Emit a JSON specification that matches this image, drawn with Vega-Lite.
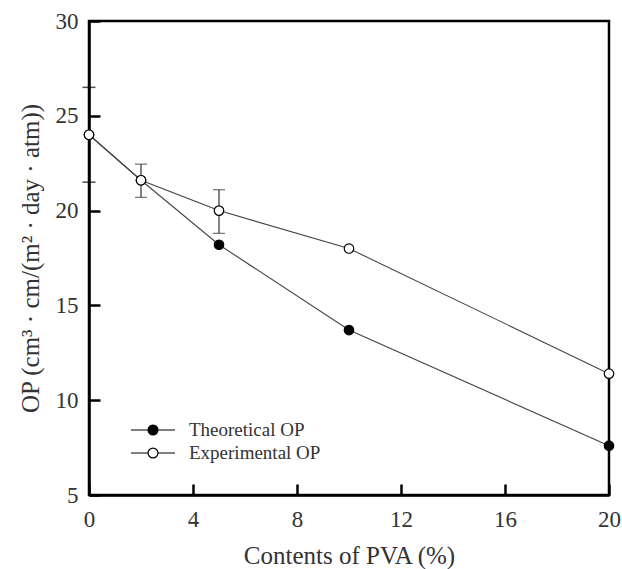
{
  "$schema": "https://vega.github.io/schema/vega-lite/v6.json",
  "width": 520,
  "height": 474,
  "autosize": "none",
  "padding": {"left": 89, "top": 21, "right": 13, "bottom": 74},
  "background": "white",
  "config": {
    "view": {"stroke": "black", "strokeWidth": 2.5},
    "font": "Liberation Serif",
    "axis": {
      "grid": false,
      "domainColor": "black",
      "domainWidth": 2.5,
      "tickColor": "black",
      "tickWidth": 2.5,
      "tickSize": -11,
      "labelFlush": false,
      "labelFont": "Liberation Serif",
      "labelFontSize": 23,
      "labelColor": "#333",
      "titleFont": "Liberation Serif",
      "titleFontSize": 25,
      "titleFontWeight": "normal",
      "titleColor": "#333"
    }
  },
  "datasets": {
    "main": [
      {"pva": 0, "op": 24.0, "series": "Theoretical OP"},
      {"pva": 2, "op": 21.6, "series": "Theoretical OP"},
      {"pva": 5, "op": 18.2, "series": "Theoretical OP"},
      {"pva": 10, "op": 13.7, "series": "Theoretical OP"},
      {"pva": 20, "op": 7.6, "series": "Theoretical OP"},
      {"pva": 0, "op": 24.0, "series": "Experimental OP"},
      {"pva": 2, "op": 21.6, "series": "Experimental OP"},
      {"pva": 5, "op": 20.0, "series": "Experimental OP"},
      {"pva": 10, "op": 18.0, "series": "Experimental OP"},
      {"pva": 20, "op": 11.4, "series": "Experimental OP"}
    ],
    "err": [
      {"pva": 2, "lo": 20.7, "hi": 22.45},
      {"pva": 5, "lo": 18.8, "hi": 21.1}
    ],
    "minor": [
      {"pva": 0, "op": 26.5},
      {"pva": 0, "op": 21.5}
    ]
  },
  "layer": [
    {
      "data": {"name": "minor"},
      "mark": {"type": "tick", "orient": "horizontal", "size": 13, "thickness": 1.5, "color": "black"},
      "encoding": {
        "x": {"field": "pva", "type": "quantitative"},
        "y": {"field": "op", "type": "quantitative"}
      }
    },
    {
      "data": {"name": "err"},
      "mark": {"type": "rule", "color": "#333", "strokeWidth": 1.2},
      "encoding": {
        "x": {"field": "pva", "type": "quantitative"},
        "y": {"field": "lo", "type": "quantitative"},
        "y2": {"field": "hi"}
      }
    },
    {
      "data": {"name": "err"},
      "mark": {"type": "tick", "orient": "horizontal", "size": 12, "thickness": 1.2, "color": "#333"},
      "encoding": {
        "x": {"field": "pva", "type": "quantitative"},
        "y": {"field": "lo", "type": "quantitative"}
      }
    },
    {
      "data": {"name": "err"},
      "mark": {"type": "tick", "orient": "horizontal", "size": 12, "thickness": 1.2, "color": "#333"},
      "encoding": {
        "x": {"field": "pva", "type": "quantitative"},
        "y": {"field": "hi", "type": "quantitative"}
      }
    },
    {
      "data": {"name": "main"},
      "mark": {"type": "line", "color": "#444", "strokeWidth": 1.1},
      "encoding": {
        "x": {"field": "pva", "type": "quantitative"},
        "y": {"field": "op", "type": "quantitative"},
        "detail": {"field": "series"}
      }
    },
    {
      "data": {"name": "main"},
      "mark": {"type": "point", "shape": "circle", "size": 90, "stroke": "black", "strokeWidth": 1.2, "opacity": 1, "filled": false},
      "encoding": {
        "x": {
          "field": "pva", "type": "quantitative",
          "scale": {"domain": [0, 20], "nice": false},
          "axis": {"values": [0, 4, 8, 12, 16, 20], "title": "Contents of PVA (%)", "labelPadding": 24, "titlePadding": 12}
        },
        "y": {
          "field": "op", "type": "quantitative",
          "scale": {"domain": [5, 30], "nice": false, "zero": false},
          "axis": {"values": [5, 10, 15, 20, 25, 30], "title": "OP (cm³ · cm/(m² · day · atm))", "labelPadding": 22, "titlePadding": 12}
        },
        "fill": {
          "field": "series", "type": "nominal",
          "scale": {"domain": ["Theoretical OP", "Experimental OP"], "range": ["black", "white"]},
          "legend": {
            "title": null,
            "orient": "none",
            "legendX": 52,
            "legendY": 397,
            "padding": 0,
            "symbolType": "M-2,0L-0.45,0M0.45,0L2,0M-0.45,0A0.45,0.45 0 1,0 0.45,0A0.45,0.45 0 1,0 -0.45,0Z",
            "symbolSize": 484,
            "symbolStrokeColor": "black",
            "symbolStrokeWidth": 1.2,
            "symbolOpacity": 1,
            "labelFont": "Liberation Serif",
            "labelFontSize": 19,
            "labelColor": "#333",
            "labelOffset": 24,
            "rowPadding": 1
          }
        }
      }
    }
  ]
}
